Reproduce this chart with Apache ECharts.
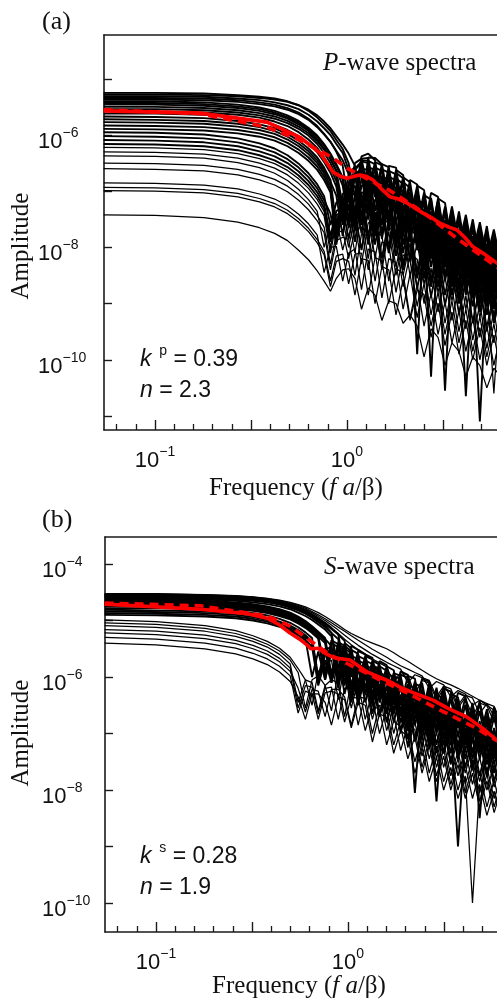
<!DOCTYPE html>
<html><head><meta charset="utf-8">
<script src="https://cdn.jsdelivr.net/npm/echarts@6/dist/echarts.min.js"></script>
<style>html,body{margin:0;padding:0;overflow:hidden;background:#fff}#c{width:600px;height:1002px}</style>
</head><body><div id="c"></div>
<script>
// ---------- Panel (a): P-wave spectra ----------
// frequency grid (f a / beta)
const pFreq = [0.054,0.1,0.18,0.27,0.35,0.42,0.49,0.56,0.63,0.70,0.76,0.82,0.88,0.95,1.02,1.10,1.19,1.29,1.40,1.52,1.65,1.80,1.96,2.13,2.32,2.52,2.74,2.98,3.24,3.52,3.83,4.16,4.52,4.92,5.35,5.82,6.33];
// amplitude of each spectrum, stored as log10(amplitude)
const pSpectraLog10 = [
[-5.25,-5.25,-5.26,-5.29,-5.32,-5.35,-5.40,-5.47,-5.57,-5.69,-5.81,-5.93,-6.09,-6.25,-6.50,-7.10,-6.38,-6.33,-6.45,-7.20,-6.55,-6.58,-7.40,-6.80,-6.88,-7.70,-7.03,-7.10,-7.90,-7.27,-7.95,-7.42,-8.10,-7.55,-8.20,-7.68,-8.30],
[-5.28,-5.28,-5.29,-5.31,-5.34,-5.37,-5.41,-5.47,-5.55,-5.65,-5.76,-5.88,-6.02,-6.17,-6.33,-6.55,-7.30,-6.40,-6.41,-6.52,-7.25,-6.62,-6.71,-7.50,-6.90,-6.98,-7.80,-7.13,-7.21,-8.00,-7.36,-8.10,-7.50,-8.25,-7.62,-8.40,-7.76],
[-5.31,-5.31,-5.32,-5.35,-5.38,-5.42,-5.47,-5.54,-5.64,-5.76,-5.88,-6.00,-6.16,-6.32,-6.62,-7.40,-6.42,-6.41,-7.05,-6.52,-6.57,-7.30,-6.75,-6.84,-7.60,-7.02,-7.75,-7.16,-7.95,-7.32,-8.05,-7.47,-8.20,-7.60,-8.35,-7.73,-8.40],
[-5.34,-5.34,-5.35,-5.38,-5.42,-5.46,-5.52,-5.60,-5.71,-5.84,-5.98,-6.12,-6.30,-6.55,-7.20,-6.50,-6.42,-7.00,-6.48,-6.54,-7.25,-6.67,-6.77,-7.55,-6.96,-7.75,-7.12,-7.90,-7.27,-8.05,-7.43,-8.20,-7.56,-8.30,-7.69,-8.45,-7.82],
[-5.37,-5.37,-5.38,-5.41,-5.45,-5.49,-5.55,-5.63,-5.73,-5.86,-5.99,-6.12,-6.28,-6.45,-6.70,-7.55,-6.45,-6.46,-6.52,-7.35,-6.64,-6.70,-7.45,-6.90,-7.70,-7.07,-7.15,-8.00,-7.30,-8.10,-7.46,-8.25,-7.59,-8.40,-7.72,-8.50,-7.85],
[-5.40,-5.40,-5.42,-5.46,-5.51,-5.57,-5.65,-5.75,-5.87,-6.01,-6.16,-6.33,-6.52,-6.75,-7.35,-6.60,-6.47,-6.50,-7.10,-6.61,-6.67,-7.40,-6.84,-6.94,-7.70,-7.11,-7.85,-7.26,-8.00,-7.42,-8.15,-7.57,-8.30,-7.70,-8.45,-7.83,-8.55],
[-5.43,-5.43,-5.45,-5.49,-5.54,-5.60,-5.68,-5.78,-5.90,-6.04,-6.19,-6.36,-6.55,-6.80,-7.50,-6.62,-6.50,-7.20,-6.58,-6.64,-7.45,-6.77,-6.87,-7.70,-7.06,-7.90,-7.22,-8.05,-7.37,-8.20,-7.53,-8.35,-7.66,-8.50,-7.79,-8.60,-7.92],
[-5.46,-5.46,-5.48,-5.52,-5.57,-5.63,-5.71,-5.81,-5.93,-6.08,-6.24,-6.42,-6.65,-7.25,-6.70,-6.56,-7.30,-6.57,-6.62,-7.40,-6.74,-6.81,-7.60,-7.01,-7.80,-7.18,-7.95,-7.33,-8.10,-7.49,-8.25,-7.64,-8.40,-7.77,-8.50,-7.90,-8.60],
[-5.50,-5.50,-5.52,-5.56,-5.61,-5.67,-5.75,-5.85,-5.97,-6.11,-6.26,-6.43,-6.62,-6.90,-7.55,-6.72,-6.60,-6.62,-7.35,-6.73,-6.80,-7.55,-6.97,-7.75,-7.15,-7.23,-8.00,-7.38,-8.15,-7.54,-8.30,-7.69,-8.45,-7.82,-8.60,-7.95,-8.70],
[-5.54,-5.54,-5.56,-5.60,-5.65,-5.71,-5.79,-5.89,-6.01,-6.16,-6.32,-6.50,-6.74,-7.40,-6.85,-6.66,-6.64,-7.35,-6.72,-6.78,-7.55,-6.92,-7.70,-7.12,-7.20,-8.00,-7.36,-8.15,-7.51,-8.30,-7.67,-8.45,-7.80,-8.60,-7.93,-8.70,-8.06],
[-5.58,-5.58,-5.60,-5.64,-5.69,-5.76,-5.84,-5.95,-6.08,-6.23,-6.40,-6.59,-6.82,-7.50,-6.90,-6.72,-7.45,-6.71,-6.76,-7.60,-6.88,-6.95,-7.80,-7.15,-7.95,-7.32,-8.10,-7.47,-8.25,-7.63,-8.40,-7.78,-8.55,-7.91,-8.70,-8.04,-8.80],
[-5.62,-5.62,-5.64,-5.69,-5.75,-5.82,-5.91,-6.02,-6.15,-6.31,-6.48,-6.67,-6.92,-7.60,-7.00,-6.76,-6.72,-7.50,-6.80,-6.86,-7.70,-6.99,-7.09,-7.90,-7.28,-8.10,-7.44,-8.25,-7.59,-8.40,-7.75,-8.55,-7.88,-8.70,-8.01,-8.80,-8.14],
[-5.67,-5.68,-5.70,-5.75,-5.81,-5.88,-5.98,-6.10,-6.24,-6.40,-6.58,-6.80,-7.60,-7.05,-6.95,-7.45,-6.78,-6.80,-7.55,-6.92,-6.98,-7.80,-7.15,-7.24,-8.05,-7.42,-8.20,-7.57,-8.35,-7.73,-8.50,-7.88,-8.65,-8.01,-8.80,-8.14,-8.90],
[-5.72,-5.73,-5.75,-5.80,-5.86,-5.93,-6.03,-6.15,-6.29,-6.45,-6.63,-6.83,-7.08,-7.80,-7.05,-6.90,-7.60,-6.86,-6.92,-7.75,-7.04,-7.11,-7.95,-7.31,-7.40,-8.20,-7.56,-8.35,-7.71,-8.50,-7.87,-8.65,-8.00,-8.80,-8.13,-8.90,-8.26],
[-5.77,-5.78,-5.80,-5.85,-5.91,-5.98,-6.08,-6.20,-6.34,-6.50,-6.68,-6.90,-7.70,-7.15,-7.00,-7.60,-6.90,-6.92,-7.70,-7.03,-7.09,-7.90,-7.26,-7.36,-9.90,-7.53,-8.35,-7.68,-8.50,-7.84,-8.65,-7.99,-8.80,-8.12,-8.95,-8.25,-9.05],
[-5.83,-5.84,-5.86,-5.91,-5.97,-6.04,-6.14,-6.26,-6.40,-6.56,-6.74,-6.96,-7.80,-7.20,-7.05,-7.05,-7.75,-6.99,-7.04,-7.85,-7.16,-7.23,-8.10,-7.43,-7.52,-8.35,-7.68,-8.50,-7.83,-8.65,-7.99,-8.80,-8.12,-8.95,-8.25,-9.05,-8.38],
[-5.89,-5.90,-5.92,-5.97,-6.03,-6.10,-6.20,-6.32,-6.46,-6.62,-6.80,-7.02,-7.90,-7.30,-7.12,-7.70,-7.02,-7.04,-7.80,-7.15,-7.21,-8.00,-7.38,-8.20,-7.57,-7.65,-10.30,-7.80,-8.60,-7.96,-8.75,-8.11,-8.90,-8.24,-9.05,-8.37,-9.15],
[-5.95,-5.96,-5.99,-6.06,-6.15,-6.24,-6.36,-6.51,-6.68,-6.88,-7.09,-7.60,-7.20,-7.15,-7.65,-7.10,-7.07,-7.80,-7.15,-7.21,-8.00,-7.34,-7.44,-8.25,-7.63,-8.40,-7.79,-8.55,-7.94,-8.70,-8.10,-8.85,-8.23,-9.00,-8.36,-9.10,-8.49],
[-6.02,-6.03,-6.06,-6.13,-6.22,-6.31,-6.43,-6.58,-6.75,-6.95,-7.16,-7.40,-7.95,-7.30,-7.25,-7.90,-7.15,-7.18,-7.95,-7.29,-7.35,-8.15,-7.52,-7.62,-8.45,-7.79,-8.60,-7.94,-10.55,-8.10,-8.90,-8.25,-9.05,-8.38,-9.20,-8.51,-9.30],
[-6.09,-6.10,-6.13,-6.20,-6.29,-6.38,-6.50,-6.65,-6.82,-7.02,-7.23,-7.80,-7.35,-7.30,-7.85,-7.27,-7.22,-7.95,-7.30,-7.36,-8.10,-7.49,-8.30,-7.69,-7.78,-8.55,-7.94,-8.70,-8.09,-8.85,-8.25,-10.65,-8.38,-9.15,-8.51,-9.25,-8.64],
[-6.16,-6.17,-6.20,-6.27,-6.36,-6.45,-6.57,-6.72,-6.89,-7.09,-7.30,-7.90,-7.42,-7.38,-7.55,-7.40,-8.05,-7.33,-7.38,-8.20,-7.50,-7.57,-8.40,-7.77,-8.55,-7.94,-8.70,-8.09,-8.85,-8.25,-9.00,-8.40,-8.46,-11.10,-8.59,-9.35,-8.72],
[-6.22,-6.23,-6.26,-6.33,-6.42,-6.51,-6.63,-6.78,-6.95,-7.15,-7.36,-8.00,-7.50,-7.42,-7.48,-8.10,-7.36,-7.39,-8.20,-7.50,-7.56,-8.35,-7.73,-8.50,-7.92,-8.65,-8.08,-8.80,-8.23,-8.95,-8.39,-9.10,-8.52,-9.25,-8.65,-10.60,-8.78],
[-6.30,-6.31,-6.34,-6.41,-6.50,-6.59,-6.71,-6.86,-7.03,-7.23,-7.44,-8.10,-7.55,-7.50,-8.00,-7.47,-7.45,-8.20,-7.53,-8.30,-7.65,-7.72,-8.50,-7.92,-8.70,-8.09,-8.85,-8.24,-9.00,-8.40,-9.15,-8.55,-9.30,-8.68,-9.40,-8.81,-9.50],
[-6.37,-6.38,-6.41,-6.49,-6.58,-6.68,-6.81,-6.97,-7.15,-7.36,-8.00,-7.55,-7.50,-8.05,-7.62,-7.56,-8.30,-7.56,-7.60,-8.40,-7.72,-8.50,-7.89,-7.99,-8.75,-8.16,-8.90,-8.31,-9.05,-8.47,-9.20,-8.62,-9.35,-8.75,-9.50,-8.88,-9.60],
[-6.50,-6.51,-6.54,-6.61,-6.70,-6.79,-6.91,-7.06,-7.23,-7.43,-7.64,-8.30,-7.75,-7.70,-8.20,-7.67,-7.65,-8.40,-7.73,-7.79,-8.60,-7.92,-8.70,-8.12,-8.21,-9.00,-8.37,-9.15,-8.52,-9.30,-8.68,-9.45,-8.81,-9.60,-8.94,-9.70,-9.07],
[-6.60,-6.61,-6.64,-6.71,-6.80,-6.89,-7.01,-7.16,-7.33,-7.53,-7.74,-8.40,-7.88,-7.82,-7.86,-8.50,-7.76,-7.79,-8.60,-7.90,-7.96,-8.80,-8.13,-8.23,-9.05,-8.40,-9.20,-8.55,-9.35,-8.71,-9.50,-8.86,-9.65,-8.99,-9.80,-9.12,-9.90],
[-6.85,-6.86,-6.89,-6.96,-7.05,-7.14,-7.26,-7.41,-7.58,-7.78,-8.45,-8.00,-7.98,-8.60,-8.10,-8.03,-8.75,-8.03,-8.08,-8.90,-8.20,-8.27,-9.10,-8.47,-9.25,-8.64,-9.40,-8.79,-9.55,-8.95,-9.70,-9.10,-9.85,-9.23,-9.95,-9.36,-10.05],
[-6.93,-6.94,-6.97,-7.04,-7.13,-7.22,-7.34,-7.49,-7.66,-7.86,-8.07,-8.60,-8.15,-8.12,-8.65,-8.12,-8.10,-8.85,-8.18,-8.24,-9.00,-8.37,-8.47,-9.25,-8.66,-9.40,-8.82,-9.55,-8.97,-9.70,-9.13,-9.85,-9.26,-10.00,-9.39,-10.10,-9.52],
[-6.99,-7.00,-7.03,-7.10,-7.19,-7.28,-7.40,-7.55,-7.72,-7.92,-8.13,-8.70,-8.25,-8.20,-8.25,-8.85,-8.20,-8.23,-9.00,-8.34,-8.40,-9.20,-8.57,-9.30,-8.76,-8.84,-9.60,-8.99,-9.75,-9.15,-9.90,-9.30,-10.00,-9.43,-10.10,-9.56,-10.20],
[-7.42,-7.43,-7.47,-7.55,-7.65,-7.75,-7.88,-8.05,-8.22,-8.42,-8.60,-8.78,-8.55,-8.40,-8.38,-8.55,-9.10,-8.72,-8.85,-9.30,-8.95,-9.00,-9.35,-9.20,-9.40,-9.95,-9.45,-9.60,-10.10,-9.70,-9.85,-10.30,-9.95,-10.10,-10.50,-10.15,-10.30]
];
// mean spectrum (red solid) and model fit (red dashed), log10 amplitude
const pMeanFreq = [0.054,0.171,0.383,0.569,0.723,0.846,0.93,1.0,1.08,1.169,1.27,1.366,1.5,1.675,1.85,2.054,2.25,2.488,2.75,3.05,3.4,3.74,4.1,4.53,5.2,6.04,8.0,10.0];
const pMeanLog10 = [-5.57,-5.61,-5.77,-6.04,-6.32,-6.66,-6.74,-6.77,-6.74,-6.71,-6.74,-6.80,-6.95,-7.10,-7.14,-7.21,-7.30,-7.39,-7.47,-7.57,-7.64,-7.69,-7.82,-7.99,-8.12,-8.28,-8.55,-8.85];
const pFitFreq = [0.054,0.171,0.383,0.569,0.846,1.0,1.3,1.675,2.5,3.74,6.04,10.0];
const pFitLog10 = [-5.55,-5.62,-5.86,-6.09,-6.41,-6.59,-6.80,-6.99,-7.38,-7.84,-8.35,-8.85];

// ---------- Panel (b): S-wave spectra ----------
const sFreq = [0.054,0.1,0.18,0.26,0.32,0.38,0.44,0.50,0.55,0.60,0.65,0.70,0.76,0.82,0.89,0.96,1.04,1.13,1.23,1.34,1.46,1.59,1.73,1.88,2.05,2.23,2.43,2.65,2.89,3.15,3.43,3.74,4.08,4.45,4.85,5.29,5.77,6.29];
const sSpectraLog10 = [
[-4.53,-4.53,-4.54,-4.56,-4.58,-4.61,-4.64,-4.68,-4.72,-4.76,-4.81,-4.86,-4.93,-5.00,-5.08,-5.16,-5.23,-5.29,-5.35,-5.40,-5.45,-5.50,-5.57,-5.65,-5.72,-5.80,-5.88,-5.96,-6.03,-6.09,-6.14,-6.20,-6.27,-6.34,-6.41,-6.50,-6.59,-6.68],
[-4.54,-4.54,-4.55,-4.57,-4.59,-4.62,-4.65,-4.69,-4.73,-4.78,-4.84,-4.90,-4.97,-5.04,-5.12,-5.19,-5.27,-5.35,-5.43,-5.51,-5.58,-5.65,-5.73,-5.80,-5.86,-5.92,-5.98,-6.20,-6.08,-6.14,-6.35,-6.24,-6.30,-6.50,-6.41,-6.47,-6.70,-6.58],
[-4.56,-4.56,-4.57,-4.59,-4.61,-4.64,-4.67,-4.71,-4.75,-4.80,-4.86,-4.93,-5.00,-5.08,-5.17,-5.26,-5.35,-5.44,-5.52,-5.60,-5.67,-5.74,-5.80,-5.86,-6.10,-5.96,-6.01,-6.06,-6.35,-6.16,-6.21,-6.50,-6.32,-6.37,-6.65,-6.47,-6.52,-6.80],
[-4.58,-4.58,-4.59,-4.61,-4.63,-4.66,-4.70,-4.74,-4.79,-4.84,-4.90,-4.97,-5.05,-5.14,-5.23,-5.33,-5.43,-5.52,-5.60,-5.68,-5.75,-5.82,-6.10,-5.92,-5.97,-6.30,-6.06,-6.11,-6.40,-6.21,-6.26,-6.55,-6.36,-6.70,-6.46,-6.51,-6.80,-6.61],
[-4.53,-4.53,-4.55,-4.57,-4.59,-4.62,-4.66,-4.71,-4.76,-4.82,-4.89,-4.96,-5.04,-5.13,-5.24,-5.90,-5.45,-5.52,-5.60,-6.20,-5.72,-5.79,-6.40,-5.90,-5.96,-6.60,-6.03,-6.08,-6.70,-6.17,-6.80,-6.28,-6.34,-6.95,-6.43,-7.05,-6.53,-7.15],
[-4.55,-4.55,-4.57,-4.59,-4.61,-4.64,-4.68,-4.73,-4.78,-4.84,-4.91,-4.98,-5.06,-5.15,-5.25,-5.36,-6.00,-5.54,-5.60,-5.66,-6.30,-5.81,-5.88,-6.50,-5.98,-6.03,-6.70,-6.10,-6.75,-6.20,-6.26,-6.90,-6.37,-7.00,-6.47,-7.10,-6.57,-7.20],
[-4.57,-4.57,-4.59,-4.61,-4.63,-4.66,-4.70,-4.75,-4.80,-4.86,-4.93,-5.00,-5.09,-5.22,-5.85,-5.40,-5.49,-6.10,-5.63,-5.69,-6.30,-5.84,-6.45,-5.96,-6.01,-6.65,-6.10,-6.75,-6.19,-6.85,-6.30,-6.36,-7.00,-6.46,-7.10,-6.57,-7.20,-6.67],
[-4.59,-4.59,-4.61,-4.63,-4.65,-4.68,-4.72,-4.77,-4.82,-4.88,-4.95,-5.03,-5.12,-5.22,-5.33,-6.00,-5.52,-5.59,-6.20,-5.71,-5.78,-6.40,-5.93,-5.98,-6.60,-6.08,-6.70,-6.17,-6.80,-6.27,-6.90,-6.39,-7.00,-6.50,-7.10,-6.60,-7.20,-6.70],
[-4.61,-4.61,-4.63,-4.65,-4.68,-4.71,-4.75,-4.80,-4.86,-4.92,-4.99,-5.07,-5.16,-5.28,-5.95,-5.45,-5.54,-6.20,-5.67,-6.30,-5.81,-5.89,-6.50,-6.02,-6.60,-6.12,-6.17,-6.85,-6.27,-6.95,-6.38,-7.05,-6.49,-7.15,-6.60,-7.25,-6.70,-7.35],
[-4.63,-4.63,-4.65,-4.68,-4.71,-4.75,-4.80,-4.86,-4.93,-5.01,-5.10,-5.20,-5.31,-5.95,-5.38,-5.45,-6.15,-5.63,-5.69,-6.35,-5.82,-6.45,-5.98,-6.04,-6.70,-6.14,-6.80,-6.24,-6.90,-6.35,-7.00,-6.47,-7.10,-6.58,-7.20,-6.69,-7.30,-6.79],
[-4.65,-4.65,-4.67,-4.70,-4.73,-4.77,-4.82,-4.88,-4.95,-5.03,-5.12,-5.22,-5.33,-5.45,-6.10,-5.50,-5.57,-6.25,-5.71,-5.77,-6.40,-5.93,-6.00,-6.60,-6.12,-6.75,-6.22,-6.90,-6.32,-6.38,-7.05,-6.50,-7.15,-6.61,-7.25,-6.72,-7.35,-6.83],
[-4.67,-4.67,-4.69,-4.72,-4.75,-4.79,-4.84,-4.90,-4.97,-5.05,-5.14,-5.24,-5.36,-6.05,-5.42,-5.49,-6.20,-5.66,-6.30,-5.79,-5.86,-6.50,-6.03,-6.65,-6.14,-6.20,-6.85,-6.30,-6.95,-6.41,-7.05,-6.54,-7.15,-6.65,-7.30,-6.76,-7.40,-6.87],
[-4.69,-4.69,-4.71,-4.74,-4.77,-4.81,-4.86,-4.92,-4.99,-5.07,-5.16,-5.26,-5.90,-5.35,-5.42,-6.10,-5.62,-5.69,-6.30,-5.82,-5.89,-6.50,-6.06,-6.12,-6.75,-6.23,-6.90,-6.34,-7.00,-6.46,-7.10,-6.58,-7.20,-6.70,-7.35,-6.81,-7.45,-6.92],
[-4.71,-4.71,-4.73,-4.76,-4.79,-4.83,-4.88,-4.94,-5.01,-5.09,-5.18,-5.28,-5.40,-6.10,-5.45,-5.53,-6.25,-5.71,-5.77,-6.40,-5.91,-6.00,-6.60,-6.15,-6.75,-6.26,-6.32,-7.00,-6.43,-7.10,-6.55,-7.25,-6.67,-7.35,-6.78,-7.45,-6.90,-7.55],
[-4.73,-4.73,-4.75,-4.78,-4.81,-4.85,-4.90,-4.96,-5.03,-5.11,-5.20,-5.30,-6.00,-5.40,-5.47,-6.15,-5.65,-6.30,-5.79,-5.86,-6.45,-6.02,-6.10,-6.70,-6.23,-6.85,-6.34,-7.00,-6.45,-7.10,-6.57,-7.25,-6.70,-7.35,-6.82,-7.45,-6.93,-7.55],
[-4.75,-4.75,-4.77,-4.80,-4.83,-4.87,-4.92,-4.98,-5.05,-5.13,-5.22,-5.32,-6.05,-5.50,-6.00,-5.60,-5.66,-6.35,-5.81,-6.45,-5.95,-6.03,-6.65,-6.18,-6.85,-6.31,-7.00,-6.42,-8.20,-6.55,-7.20,-6.68,-7.30,-6.80,-7.45,-6.91,-7.55,-7.02],
[-4.78,-4.78,-4.80,-4.83,-4.87,-4.91,-4.97,-5.04,-5.12,-5.21,-5.31,-6.00,-5.50,-5.48,-6.10,-5.60,-6.25,-5.78,-5.84,-6.50,-5.99,-6.60,-6.17,-6.23,-6.32,-8.05,-6.42,-7.10,-6.54,-7.20,-6.67,-7.35,-6.80,-7.45,-6.92,-7.55,-7.04,-7.65],
[-4.81,-4.82,-4.84,-4.87,-4.91,-4.96,-5.02,-5.09,-5.17,-5.26,-5.37,-6.05,-5.55,-6.00,-5.52,-5.62,-6.35,-5.81,-6.45,-5.94,-6.01,-6.65,-6.20,-6.80,-6.34,-6.40,-7.10,-6.52,-7.20,-6.65,-7.35,-6.79,-7.45,-6.91,-8.50,-7.03,-7.70,-7.15],
[-4.84,-4.85,-4.87,-4.90,-4.94,-4.99,-5.05,-5.12,-5.20,-5.29,-5.40,-6.10,-5.60,-5.50,-6.20,-5.66,-5.76,-6.45,-5.90,-5.98,-6.65,-6.15,-6.80,-6.31,-6.95,-6.45,-6.51,-7.20,-6.64,-7.35,-6.78,-7.45,-6.92,-7.60,-7.04,-7.70,-7.16,-7.80],
[-4.87,-4.88,-4.90,-4.93,-4.97,-5.02,-5.08,-5.15,-5.23,-5.32,-6.00,-5.55,-6.05,-5.55,-5.62,-6.30,-5.80,-6.45,-5.94,-6.01,-6.70,-6.18,-6.28,-6.95,-6.42,-7.10,-6.55,-7.25,-6.69,-7.35,-6.83,-9.00,-6.97,-7.65,-7.09,-7.75,-7.21,-7.85],
[-4.90,-4.91,-4.93,-4.96,-5.00,-5.05,-5.11,-5.18,-5.26,-5.35,-5.46,-6.15,-5.70,-6.10,-5.60,-5.72,-6.45,-5.91,-5.97,-6.65,-6.12,-6.80,-6.32,-6.40,-7.10,-6.54,-7.25,-6.67,-7.35,-6.81,-7.50,-6.97,-7.60,-7.09,-7.75,-7.22,-7.85,-7.35],
[-4.99,-5.02,-5.09,-5.18,-5.27,-5.37,-5.49,-5.65,-5.85,-6.05,-6.50,-5.90,-5.78,-5.70,-6.40,-5.80,-5.88,-6.50,-6.00,-6.08,-6.70,-6.28,-6.36,-7.00,-6.55,-7.15,-6.70,-6.78,-7.45,-6.95,-7.55,-7.12,-7.70,-7.25,-7.85,-7.38,-7.95,-7.52],
[-5.04,-5.07,-5.14,-5.23,-5.32,-5.42,-5.54,-5.70,-5.92,-6.55,-6.05,-5.98,-6.15,-6.60,-5.90,-5.90,-6.55,-6.05,-6.12,-6.75,-6.28,-6.35,-7.00,-6.55,-7.20,-6.72,-6.80,-7.45,-6.98,-7.60,-7.14,-7.75,-7.28,-7.90,-7.42,-8.00,-7.55,-8.10],
[-5.09,-5.12,-5.19,-5.28,-5.37,-5.47,-5.60,-5.77,-6.45,-6.05,-6.10,-6.60,-6.15,-6.05,-6.10,-6.70,-6.08,-6.12,-6.75,-6.25,-6.32,-6.95,-6.52,-6.60,-7.25,-6.80,-7.40,-6.98,-7.60,-7.15,-7.75,-7.32,-7.90,-7.46,-8.05,-7.60,-8.15,-7.73],
[-5.16,-5.19,-5.26,-5.35,-5.44,-5.54,-5.67,-5.84,-6.55,-6.15,-6.18,-6.65,-6.20,-6.18,-6.75,-6.20,-6.22,-6.85,-6.30,-6.38,-7.00,-6.55,-6.65,-7.30,-6.85,-6.93,-7.60,-7.10,-7.75,-7.27,-7.90,-7.44,-8.05,-7.58,-8.20,-7.72,-8.30,-7.85],
[-5.22,-5.25,-5.32,-5.41,-5.50,-5.60,-5.73,-5.90,-6.20,-6.62,-6.22,-6.25,-6.70,-6.22,-6.22,-6.35,-6.85,-6.35,-6.38,-7.00,-6.50,-6.58,-7.20,-6.78,-6.88,-7.50,-7.05,-7.70,-7.22,-7.85,-7.40,-8.00,-7.55,-8.15,-7.68,-8.30,-7.82,-8.40],
[-5.30,-5.33,-5.40,-5.49,-5.58,-5.68,-5.81,-5.98,-6.64,-6.25,-6.30,-6.75,-6.28,-6.25,-6.30,-6.80,-6.35,-6.38,-6.95,-6.50,-6.58,-7.20,-6.78,-6.88,-7.45,-7.05,-7.70,-7.22,-7.85,-7.40,-8.00,-7.55,-8.15,-7.70,-8.30,-7.84,-8.40,-7.97],
[-5.40,-5.43,-5.50,-5.59,-5.68,-5.78,-5.91,-6.08,-6.35,-6.75,-6.30,-6.30,-6.45,-6.85,-6.35,-6.40,-6.90,-6.45,-6.50,-7.15,-6.65,-6.72,-7.35,-6.95,-7.05,-7.70,-7.25,-7.85,-7.42,-8.00,-7.60,-8.15,-7.75,-10.00,-7.90,-8.45,-8.02,-8.55]
];
const sMeanFreq = [0.054,0.17,0.30,0.379,0.44,0.499,0.56,0.611,0.64,0.70,0.76,0.85,1.024,1.13,1.256,1.45,1.65,1.865,2.2,2.77,3.3,4.17,5.0,5.97,8.0,10.0];
const sMeanLog10 = [-4.71,-4.80,-4.88,-4.96,-5.08,-5.22,-5.33,-5.43,-5.50,-5.49,-5.58,-5.66,-5.70,-5.80,-5.91,-6.00,-6.08,-6.18,-6.28,-6.41,-6.55,-6.71,-6.90,-7.12,-7.40,-7.62];
const sFitFreq = [0.054,0.17,0.38,0.5,0.65,0.8,1.0,1.5,2.0,3.0,4.5,6.0,10.0];
const sFitLog10 = [-4.69,-4.74,-4.92,-5.10,-5.38,-5.60,-5.77,-6.07,-6.27,-6.58,-6.88,-7.13,-7.55];

// ---------- axis ticks (log10 exponents) ----------
const xMajorExp = [-1, -0.5, 0, 0.5, 1];
const xMinorExp = [-1.2,-1.1,-0.9,-0.8,-0.7,-0.6,-0.4,-0.3,-0.2,-0.1,0.1,0.2,0.3,0.4,0.6,0.7,0.8,0.9];
const xLabelExp = [-1, 0, 1];
const pYTickExp = [-11,-10,-9,-8,-7,-6,-5];
const pYLabelExp = [-10,-8,-6];
const sYTickExp = [-10,-9,-8,-7,-6,-5,-4];
const sYLabelExp = [-10,-8,-6,-4];

const pw = e => Math.pow(10, e);
const X_MIN = pw(-1.2656), X_MAX = 10;
const SANS = '"Liberation Sans", Arial, sans-serif';
const SERIF = '"Liberation Serif", "Times New Roman", serif';
const AX = '#1a1a1a';

function expLabel(v) {
  const e = Math.round(Math.log10(v));
  return '{b|10}{s|' + (e < 0 ? '\u2212' : '') + Math.abs(e) + '}';
}
const labelRich = {
  b: {fontSize: 22, fontFamily: SANS, color: '#111', lineHeight: 27, verticalAlign: 'bottom'},
  s: {fontSize: 14, fontFamily: SANS, color: '#111', lineHeight: 14, verticalAlign: 'top'}
};

function xAxes(gi) {
  return [
    {type: 'log', gridIndex: gi, min: X_MIN, max: X_MAX, position: 'bottom',
     axisLine: {show: true, onZero: false, lineStyle: {color: AX, width: 1.6}},
     axisTick: {show: true, inside: true, length: 10, customValues: xMajorExp.map(pw), lineStyle: {color: AX, width: 1.4}},
     axisLabel: {show: true, customValues: xLabelExp.map(pw), formatter: expLabel, rich: labelRich, margin: 15},
     splitLine: {show: false}, minorTick: {show: false}},
    {type: 'log', gridIndex: gi, min: X_MIN, max: X_MAX, position: 'bottom',
     axisLine: {show: false, onZero: false},
     axisTick: {show: true, inside: true, length: 6, customValues: xMinorExp.map(pw), lineStyle: {color: AX, width: 1.3}},
     axisLabel: {show: false}, splitLine: {show: false}},
    {type: 'log', gridIndex: gi, min: X_MIN, max: X_MAX, position: 'top',
     axisLine: {show: true, onZero: false, lineStyle: {color: AX, width: 1.6}},
     axisTick: {show: false}, axisLabel: {show: false}, splitLine: {show: false}}
  ];
}
function yAxis(gi, minE, maxE, ticks, labels, margin) {
  return {type: 'log', gridIndex: gi, min: pw(minE), max: pw(maxE), position: 'left',
    axisLine: {show: true, onZero: false, lineStyle: {color: AX, width: 1.6}},
    axisTick: {show: true, inside: true, length: 8, customValues: ticks.map(pw), lineStyle: {color: AX, width: 1.4}},
    axisLabel: {show: true, customValues: labels.map(pw), formatter: expLabel, rich: labelRich, align: 'left', margin: margin, padding: [9, 0, 0, 0]},
    splitLine: {show: false}};
}

function lineSeries(freqs, logs, xi, yi, style, z) {
  const n = Math.min(freqs.length, logs.length);
  const data = [];
  for (let i = 0; i < n; i++) data.push([freqs[i], pw(logs[i])]);
  return {type: 'line', xAxisIndex: xi, yAxisIndex: yi, data: data, symbol: 'none', showSymbol: false,
    silent: true, animation: false, lineStyle: style, z: z, clip: true, emphasis: {disabled: true}};
}

const BLACK_THIN = {color: '#000', width: 1.25};
const BLACK_THICK = {color: '#000', width: 1.9};
const RED_SOLID = {color: '#ff0000', width: 3.6};
const RED_DASH = {color: '#ff0000', width: 3.6, type: [9, 6]};

const series = [];
// dense bundle (strong spectra) drawn heavier, weak isolated spectra thinner
pSpectraLog10.forEach((c, k) => series.push(lineSeries(pFreq, c, 0, 0, k < 21 ? BLACK_THICK : BLACK_THIN, 2)));
series.push(lineSeries(pFitFreq, pFitLog10, 0, 0, RED_DASH, 3));
series.push(lineSeries(pMeanFreq, pMeanLog10, 0, 0, RED_SOLID, 4));
sSpectraLog10.forEach((c, k) => series.push(lineSeries(sFreq, c, 3, 1, (k >= 4 && k < 21) ? BLACK_THICK : BLACK_THIN, 2)));
series.push(lineSeries(sFitFreq, sFitLog10, 3, 1, RED_DASH, 3));
series.push(lineSeries(sMeanFreq, sMeanLog10, 3, 1, RED_SOLID, 4));

function txt(x, y, text, rich, opts) {
  return Object.assign({type: 'text', x: x, y: y, silent: true,
    style: {text: text, rich: rich, fill: '#111', fontSize: 24, fontFamily: SERIF,
      align: 'left', textAlign: 'left', verticalAlign: 'middle', textVerticalAlign: 'middle'}}, opts || {});
}
const serifRich = {
  r: {fontSize: 25, fontFamily: SERIF, color: '#111'},
  i: {fontSize: 25, fontFamily: SERIF, fontStyle: 'italic', color: '#111'}
};
const sansRich = {
  r: {fontSize: 23, fontFamily: SANS, color: '#111', lineHeight: 27, verticalAlign: 'bottom'},
  i: {fontSize: 23, fontFamily: SANS, fontStyle: 'italic', color: '#111', lineHeight: 27, verticalAlign: 'bottom'},
  s: {fontSize: 14, fontFamily: SANS, color: '#111', lineHeight: 14, verticalAlign: 'top'}
};
const panelRich = {r: {fontSize: 26, fontFamily: SERIF, color: '#111'}};

function centered(x, y, text, rich, rot) {
  const t = txt(x, y, text, rich);
  t.style.align = 'center'; t.style.textAlign = 'center';
  if (rot) t.rotation = rot;
  return t;
}

const graphic = [
  txt(42, 22, '{r|(a)}', panelRich),
  txt(42, 520, '{r|(b)}', panelRich),
  txt(323, 63, '{i|P}{r|-wave spectra}', serifRich),
  txt(324, 567, '{i|S}{r|-wave spectra}', serifRich),
  centered(21, 246, '{r|Amplitude}', serifRich, Math.PI / 2),
  centered(21, 733, '{r|Amplitude}', serifRich, Math.PI / 2),
  centered(296, 488, '{r|Frequency (}{i|f a}{r|/\u03b2)}', serifRich),
  centered(299, 986, '{r|Frequency (}{i|f a}{r|/\u03b2)}', serifRich),
  txt(140, 358, '{i|k}{s|  p}{r| = 0.39}', sansRich),
  txt(140, 389, '{i|n}{r| = 2.3}', sansRich),
  txt(140, 855, '{i|k}{s|  s}{r| = 0.28}', sansRich),
  txt(140, 886, '{i|n}{r| = 1.9}', sansRich)
];

const option = {
  animation: false,
  backgroundColor: '#fff',
  grid: [
    {left: 104, top: 35, width: 435, height: 395, containLabel: false, outerBoundsMode: 'none'},
    {left: 105, top: 537, width: 435, height: 395, containLabel: false, outerBoundsMode: 'none'}
  ],
  xAxis: xAxes(0).concat(xAxes(1)),
  yAxis: [
    yAxis(0, -11.25, -4.22, pYTickExp, pYLabelExp, 66),
    yAxis(1, -10.513, -3.522, sYTickExp, sYLabelExp, 63)
  ],
  series: series,
  graphic: graphic
};

const chart = echarts.init(document.getElementById('c'), null, {renderer: 'canvas'});
chart.setOption(option);
</script></body></html>
